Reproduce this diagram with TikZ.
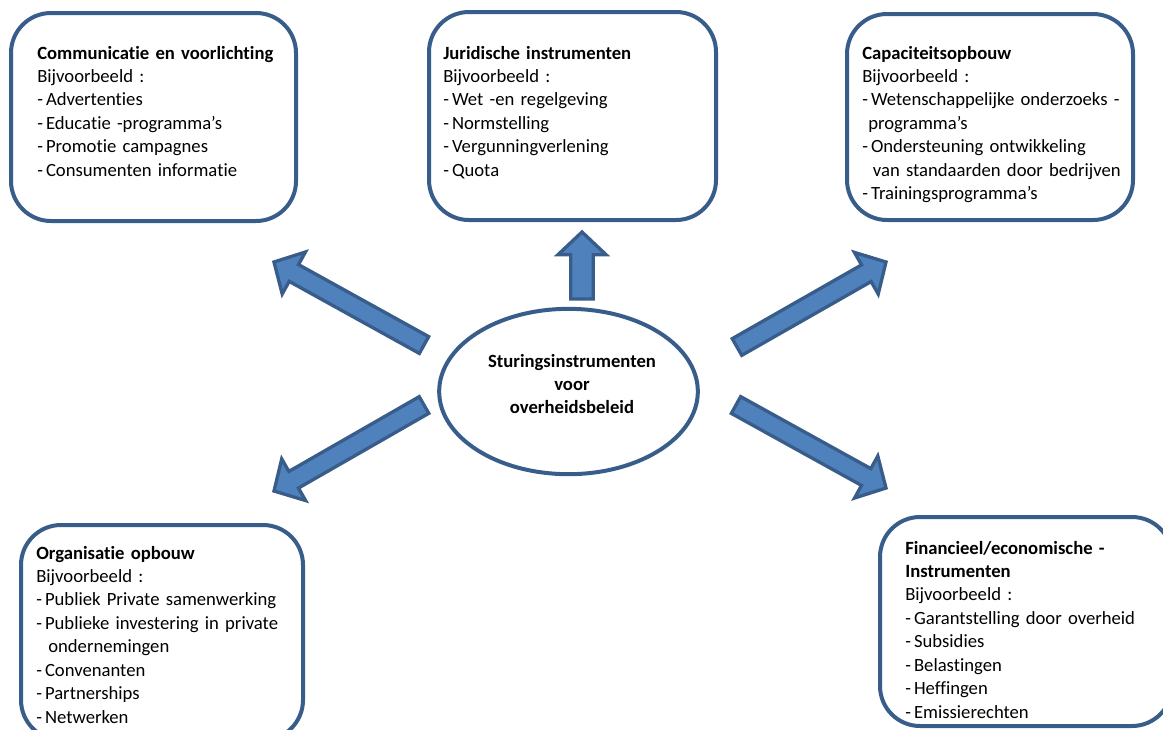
\documentclass[tikz,border=0pt]{standalone}
\usepackage{fontspec}
\setmainfont{Carlito}[Ligatures={TeX,NoCommon}]
\usepackage{tikz}
\usetikzlibrary{calc,fit,shapes.geometric}

\definecolor{boxline}{HTML}{385D8A}
\definecolor{arrowfill}{HTML}{4F81BD}

% list dash as in the boxes
\newcommand{\itemdash}{-\hspace{2.3pt}}

% block arrow from tail #2 to tip #3, half shaft width #1
\newcommand{\blockarrow}[3][7.2pt]{%
  \path ($(#3)!17pt!(#2)$) coordinate (neck);
  \draw[blockarr] ($(#2)!#1!90:(#3)$) -- ($(neck)!#1!90:(#3)$) -- ($(neck)!18pt!90:(#3)$) -- (#3) -- ($(neck)!18pt!-90:(#3)$) -- ($(neck)!#1!-90:(#3)$) -- ($(#2)!#1!-90:(#3)$) -- cycle ;
}

\begin{document}
\begin{tikzpicture}[x=0.75pt,y=0.75pt,yscale=-1,xscale=1,
  infobox/.style={draw=boxline, line width=3pt, rounded corners=30pt, inner sep=0pt, fill=white},
  boxtxt/.style={anchor=base west, inner sep=0pt, text width=215pt, align=left, font=\fontsize{14pt}{17.6pt}\selectfont},
  hub/.style={ellipse, draw=boxline, line width=3pt, fill=white, inner sep=0pt, minimum width=194pt, minimum height=124pt},
  hubtxt/.style={inner sep=0pt, align=center, font=\bfseries\fontsize{14pt}{17.25pt}\selectfont},
  blockarr/.style={draw=boxline, fill=arrowfill, line width=2.5pt}]
\useasboundingbox (0,0) rectangle (1163,729);
\clip (0,0) rectangle (1163,729);

%Rounded Rect: communicatie
\node[infobox, fit={(11,13) (296,221)}] (comm) {};
% Text Node
\node[boxtxt] (commtxt) at (37,59) {{\bfseries Communicatie en voorlichting}\\Bijvoorbeeld :\\\itemdash Advertenties\\\itemdash Educatie -programma’s\\\itemdash Promotie campagnes\\\itemdash Consumenten informatie};

%Rounded Rect: juridisch
\node[infobox, fit={(429,12) (716,220)}] (jur) {};
% Text Node
\node[boxtxt] (jurtxt) at (443,59) {{\bfseries Juridische instrumenten}\\Bijvoorbeeld :\\\itemdash Wet -en regelgeving\\\itemdash Normstelling\\\itemdash Vergunningverlening\\\itemdash Quota};

%Rounded Rect: capaciteit
\node[infobox, fit={(847,14) (1133,220)}] (cap) {};
% Text Node
\node[boxtxt] (captxt) at (862,59) {{\bfseries Capaciteitsopbouw}\\Bijvoorbeeld :\\\itemdash Wetenschappelijke onderzoeks -\\\hspace*{4.5pt}programma’s\\\itemdash Ondersteuning ontwikkeling\\\hspace*{8pt}van standaarden door bedrijven\\\itemdash Trainingsprogramma’s};

%Rounded Rect: organisatie
\node[infobox, fit={(21,525) (303,740)}] (org) {};
% Text Node
\node[boxtxt] (orgtxt) at (36,559) {{\bfseries Organisatie opbouw}\\Bijvoorbeeld :\\\itemdash Publiek Private samenwerking\\\itemdash Publieke investering in private\\\hspace*{9pt}ondernemingen\\\itemdash Convenanten\\\itemdash Partnerships\\\itemdash Netwerken};

%Rounded Rect: financieel
\node[infobox, fit={(880,517) (1172,726)}] (fin) {};
% Text Node
\node[boxtxt] (fintxt) at (905,554) {{\bfseries Financieel/economische -}\\{\bfseries Instrumenten}\\Bijvoorbeeld :\\\itemdash Garantstelling door overheid\\\itemdash Subsidies\\\itemdash Belastingen\\\itemdash Heffingen\\\itemdash Emissierechten};

%Block Arrows
\coordinate (ulTail) at (424,345); \coordinate (ulTip) at (274,262);
\coordinate (urTail) at (737,347); \coordinate (urTip) at (886,262);
\coordinate (llTail) at (424,405); \coordinate (llTip) at (274,491);
\coordinate (lrTail) at (736,405); \coordinate (lrTip) at (886,488);
\coordinate (upTail) at (582,299); \coordinate (upTip) at (582,232);
\blockarrow{ulTail}{ulTip}
\blockarrow{urTail}{urTip}
\blockarrow{llTail}{llTip}
\blockarrow{lrTail}{lrTip}
\blockarrow[8.4pt]{upTail}{upTip}

%Shape: Ellipse
\node[hub] (centre) at (568.5,391.5) {};
% Text Node
\node[hubtxt] (centrelbl) at (572,384.5) {Sturingsinstrumenten\\voor\\overheidsbeleid};

\end{tikzpicture}
\end{document}
